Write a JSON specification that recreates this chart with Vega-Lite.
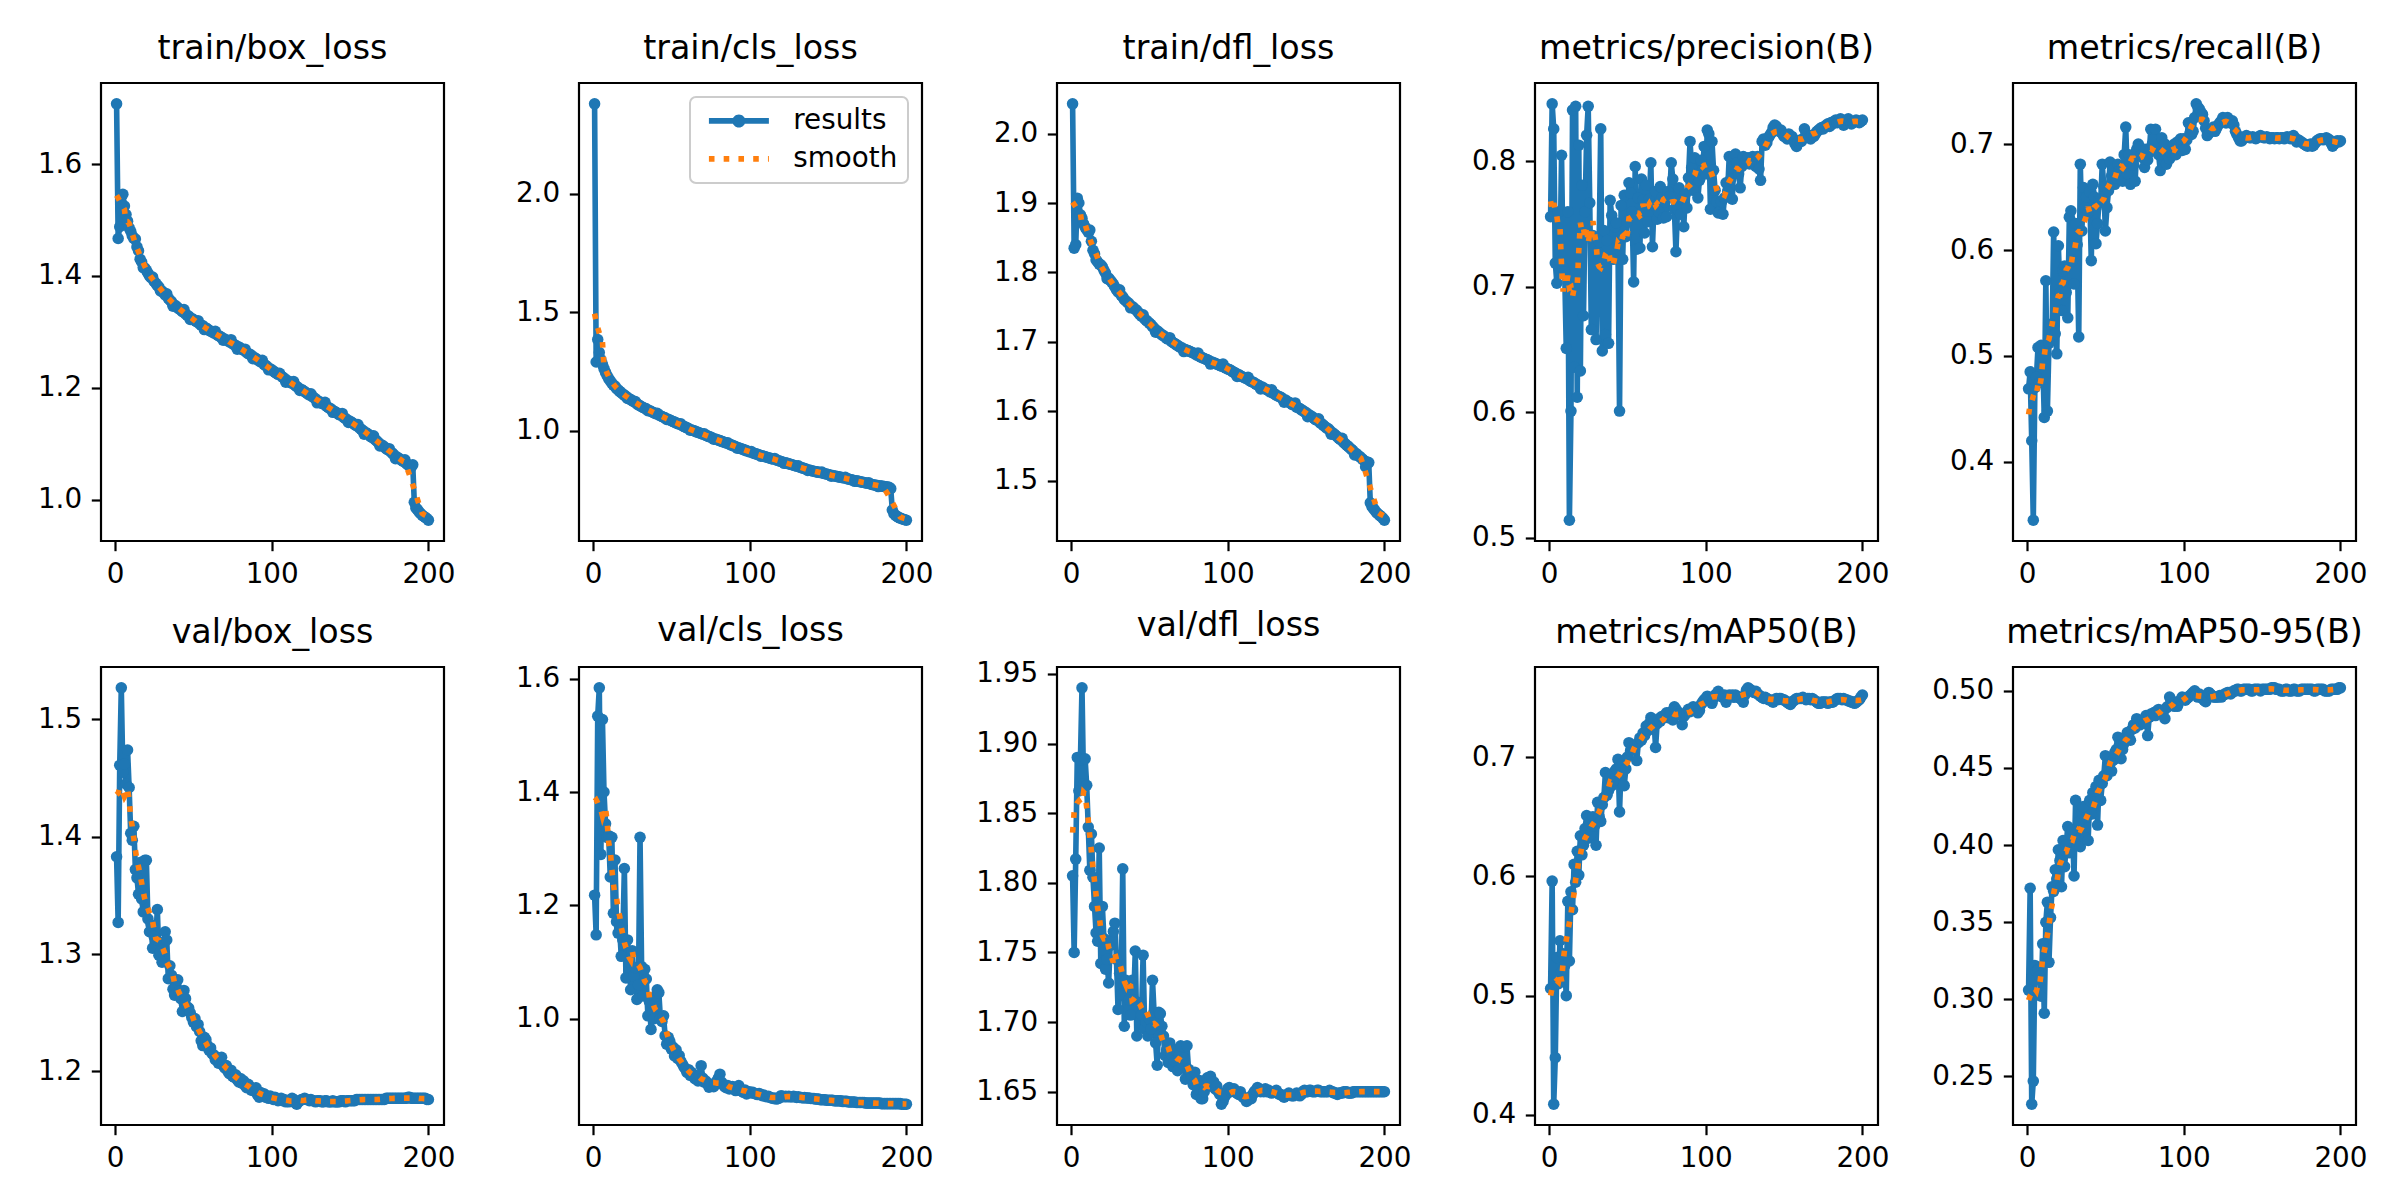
{
  "$schema": "https://vega.github.io/schema/vega-lite/v6.json",
  "padding": {"left": 36, "top": 30, "right": 5, "bottom": 5},
  "background": "white",
  "data": {"values": [
    {"epoch":1,"tbox":1.708,"tcls":2.380,"tdfl":2.043,"prec":0.756,"rec":0.469,"vbox":1.383,"vcls":1.218,"vdfl":1.805,"map50":0.506,"map95":0.306},
    {"epoch":2,"tbox":1.467,"tcls":1.290,"tdfl":1.835,"prec":0.846,"rec":0.485,"vbox":1.327,"vcls":1.148,"vdfl":1.750,"map50":0.596,"map95":0.372},
    {"epoch":3,"tbox":1.488,"tcls":1.385,"tdfl":1.840,"prec":0.826,"rec":0.420,"vbox":1.461,"vcls":1.534,"vdfl":1.817,"map50":0.409,"map95":0.232},
    {"epoch":4,"tbox":1.530,"tcls":1.330,"tdfl":1.907,"prec":0.719,"rec":0.345,"vbox":1.527,"vcls":1.584,"vdfl":1.890,"map50":0.448,"map95":0.247},
    {"epoch":5,"tbox":1.546,"tcls":1.300,"tdfl":1.900,"prec":0.703,"rec":0.470,"vbox":1.455,"vcls":1.290,"vdfl":1.866,"map50":0.532,"map95":0.322},
    {"epoch":6,"tbox":1.525,"tcls":1.280,"tdfl":1.883,"prec":0.760,"rec":0.480,"vbox":1.462,"vcls":1.528,"vdfl":1.888,"map50":0.510,"map95":0.318},
    {"epoch":7,"tbox":1.510,"tcls":1.262,"tdfl":1.878,"prec":0.720,"rec":0.508,"vbox":1.445,"vcls":1.400,"vdfl":1.940,"map50":0.546,"map95":0.319},
    {"epoch":8,"tbox":1.498,"tcls":1.246,"tdfl":1.870,"prec":0.805,"rec":0.475,"vbox":1.474,"vcls":1.344,"vdfl":1.871,"map50":0.520,"map95":0.315},
    {"epoch":9,"tbox":1.486,"tcls":1.232,"tdfl":1.865,"prec":0.715,"rec":0.510,"vbox":1.442,"vcls":1.320,"vdfl":1.889,"map50":0.535,"map95":0.302},
    {"epoch":10,"tbox":1.480,"tcls":1.220,"tdfl":1.862,"prec":0.712,"rec":0.500,"vbox":1.403,"vcls":1.323,"vdfl":1.870,"map50":0.525,"map95":0.336},
    {"epoch":11,"tbox":1.472,"tcls":1.210,"tdfl":1.858,"prec":0.651,"rec":0.442,"vbox":1.397,"vcls":1.250,"vdfl":1.840,"map50":0.500,"map95":0.291},
    {"epoch":12,"tbox":1.467,"tcls":1.200,"tdfl":1.861,"prec":0.760,"rec":0.571,"vbox":1.409,"vcls":1.320,"vdfl":1.809,"map50":0.579,"map95":0.350},
    {"epoch":13,"tbox":1.466,"tcls":1.192,"tdfl":1.845,"prec":0.514,"rec":0.448,"vbox":1.372,"vcls":1.186,"vdfl":1.835,"map50":0.529,"map95":0.363},
    {"epoch":14,"tbox":1.452,"tcls":1.188,"tdfl":1.832,"prec":0.601,"rec":0.512,"vbox":1.365,"vcls":1.280,"vdfl":1.804,"map50":0.587,"map95":0.324},
    {"epoch":15,"tbox":1.445,"tcls":1.178,"tdfl":1.827,"prec":0.841,"rec":0.530,"vbox":1.351,"vcls":1.171,"vdfl":1.783,"map50":0.572,"map95":0.353},
    {"epoch":16,"tbox":1.430,"tcls":1.172,"tdfl":1.818,"prec":0.636,"rec":0.520,"vbox":1.378,"vcls":1.151,"vdfl":1.764,"map50":0.610,"map95":0.373},
    {"epoch":17,"tbox":1.425,"tcls":1.166,"tdfl":1.815,"prec":0.844,"rec":0.617,"vbox":1.347,"vcls":1.160,"vdfl":1.758,"map50":0.595,"map95":0.370},
    {"epoch":18,"tbox":1.415,"tcls":1.160,"tdfl":1.812,"prec":0.612,"rec":0.521,"vbox":1.336,"vcls":1.110,"vdfl":1.825,"map50":0.621,"map95":0.384},
    {"epoch":19,"tbox":1.414,"tcls":1.155,"tdfl":1.811,"prec":0.813,"rec":0.502,"vbox":1.380,"vcls":1.139,"vdfl":1.742,"map50":0.601,"map95":0.378},
    {"epoch":20,"tbox":1.410,"tcls":1.150,"tdfl":1.808,"prec":0.633,"rec":0.604,"vbox":1.380,"vcls":1.265,"vdfl":1.783,"map50":0.634,"map95":0.397},
    {"epoch":21,"tbox":1.405,"tcls":1.145,"tdfl":1.803,"prec":0.781,"rec":0.560,"vbox":1.330,"vcls":1.072,"vdfl":1.760,"map50":0.618,"map95":0.390},
    {"epoch":22,"tbox":1.400,"tcls":1.136,"tdfl":1.799,"prec":0.677,"rec":0.543,"vbox":1.319,"vcls":1.139,"vdfl":1.738,"map50":0.626,"map95":0.373},
    {"epoch":23,"tbox":1.397,"tcls":1.136,"tdfl":1.791,"prec":0.760,"rec":0.580,"vbox":1.325,"vcls":1.100,"vdfl":1.745,"map50":0.640,"map95":0.403},
    {"epoch":24,"tbox":1.398,"tcls":1.131,"tdfl":1.792,"prec":0.821,"rec":0.585,"vbox":1.305,"vcls":1.051,"vdfl":1.728,"map50":0.651,"map95":0.386},
    {"epoch":25,"tbox":1.390,"tcls":1.127,"tdfl":1.789,"prec":0.844,"rec":0.560,"vbox":1.315,"vcls":1.120,"vdfl":1.755,"map50":0.632,"map95":0.400},
    {"epoch":26,"tbox":1.387,"tcls":1.122,"tdfl":1.786,"prec":0.767,"rec":0.536,"vbox":1.312,"vcls":1.075,"vdfl":1.759,"map50":0.645,"map95":0.412},
    {"epoch":27,"tbox":1.383,"tcls":1.123,"tdfl":1.783,"prec":0.666,"rec":0.631,"vbox":1.338,"vcls":1.090,"vdfl":1.765,"map50":0.636,"map95":0.395},
    {"epoch":28,"tbox":1.380,"tcls":1.113,"tdfl":1.779,"prec":0.741,"rec":0.637,"vbox":1.299,"vcls":1.034,"vdfl":1.771,"map50":0.650,"map95":0.407},
    {"epoch":29,"tbox":1.373,"tcls":1.109,"tdfl":1.775,"prec":0.731,"rec":0.590,"vbox":1.302,"vcls":1.060,"vdfl":1.745,"map50":0.642,"map95":0.410},
    {"epoch":30,"tbox":1.373,"tcls":1.105,"tdfl":1.772,"prec":0.658,"rec":0.568,"vbox":1.293,"vcls":1.320,"vdfl":1.709,"map50":0.626,"map95":0.380},
    {"epoch":31,"tbox":1.370,"tcls":1.101,"tdfl":1.775,"prec":0.728,"rec":0.625,"vbox":1.310,"vcls":1.092,"vdfl":1.735,"map50":0.662,"map95":0.429},
    {"epoch":32,"tbox":1.366,"tcls":1.098,"tdfl":1.767,"prec":0.736,"rec":0.605,"vbox":1.319,"vcls":1.040,"vdfl":1.720,"map50":0.650,"map95":0.403},
    {"epoch":33,"tbox":1.368,"tcls":1.095,"tdfl":1.765,"prec":0.826,"rec":0.518,"vbox":1.312,"vcls":1.087,"vdfl":1.810,"map50":0.646,"map95":0.415},
    {"epoch":34,"tbox":1.360,"tcls":1.092,"tdfl":1.761,"prec":0.649,"rec":0.681,"vbox":1.279,"vcls":1.070,"vdfl":1.697,"map50":0.660,"map95":0.399},
    {"epoch":35,"tbox":1.357,"tcls":1.084,"tdfl":1.759,"prec":0.745,"rec":0.618,"vbox":1.290,"vcls":1.005,"vdfl":1.730,"map50":0.666,"map95":0.421},
    {"epoch":36,"tbox":1.354,"tcls":1.085,"tdfl":1.757,"prec":0.662,"rec":0.659,"vbox":1.282,"vcls":1.030,"vdfl":1.725,"map50":0.687,"map95":0.425},
    {"epoch":37,"tbox":1.346,"tcls":1.082,"tdfl":1.755,"prec":0.737,"rec":0.640,"vbox":1.270,"vcls":0.981,"vdfl":1.716,"map50":0.668,"map95":0.405},
    {"epoch":38,"tbox":1.348,"tcls":1.078,"tdfl":1.749,"prec":0.655,"rec":0.650,"vbox":1.265,"vcls":1.010,"vdfl":1.705,"map50":0.672,"map95":0.418},
    {"epoch":39,"tbox":1.346,"tcls":1.075,"tdfl":1.751,"prec":0.769,"rec":0.635,"vbox":1.272,"vcls":1.000,"vdfl":1.730,"map50":0.684,"map95":0.403},
    {"epoch":40,"tbox":1.343,"tcls":1.072,"tdfl":1.749,"prec":0.757,"rec":0.655,"vbox":1.278,"vcls":1.040,"vdfl":1.716,"map50":0.676,"map95":0.429},
    {"epoch":41,"tbox":1.341,"tcls":1.073,"tdfl":1.747,"prec":0.722,"rec":0.590,"vbox":1.268,"vcls":1.051,"vdfl":1.751,"map50":0.680,"map95":0.420},
    {"epoch":42,"tbox":1.339,"tcls":1.066,"tdfl":1.745,"prec":0.748,"rec":0.662,"vbox":1.262,"vcls":1.046,"vdfl":1.690,"map50":0.688,"map95":0.434},
    {"epoch":43,"tbox":1.336,"tcls":1.063,"tdfl":1.742,"prec":0.751,"rec":0.650,"vbox":1.251,"vcls":1.000,"vdfl":1.714,"map50":0.690,"map95":0.428},
    {"epoch":44,"tbox":1.340,"tcls":1.060,"tdfl":1.739,"prec":0.733,"rec":0.606,"vbox":1.269,"vcls":0.995,"vdfl":1.700,"map50":0.698,"map95":0.438},
    {"epoch":45,"tbox":1.332,"tcls":1.057,"tdfl":1.737,"prec":0.601,"rec":0.625,"vbox":1.262,"vcls":1.005,"vdfl":1.705,"map50":0.654,"map95":0.413},
    {"epoch":46,"tbox":1.330,"tcls":1.054,"tdfl":1.739,"prec":0.765,"rec":0.647,"vbox":1.255,"vcls":0.970,"vdfl":1.748,"map50":0.692,"map95":0.442},
    {"epoch":47,"tbox":1.328,"tcls":1.047,"tdfl":1.733,"prec":0.722,"rec":0.645,"vbox":1.254,"vcls":0.955,"vdfl":1.695,"map50":0.695,"map95":0.429},
    {"epoch":48,"tbox":1.322,"tcls":1.048,"tdfl":1.731,"prec":0.773,"rec":0.681,"vbox":1.250,"vcls":0.967,"vdfl":1.700,"map50":0.676,"map95":0.440},
    {"epoch":49,"tbox":1.324,"tcls":1.045,"tdfl":1.729,"prec":0.740,"rec":0.660,"vbox":1.246,"vcls":0.960,"vdfl":1.690,"map50":0.690,"map95":0.445},
    {"epoch":50,"tbox":1.322,"tcls":1.042,"tdfl":1.727,"prec":0.752,"rec":0.618,"vbox":1.242,"vcls":0.946,"vdfl":1.702,"map50":0.700,"map95":0.458},
    {"epoch":51,"tbox":1.320,"tcls":1.039,"tdfl":1.725,"prec":0.783,"rec":0.640,"vbox":1.245,"vcls":0.950,"vdfl":1.695,"map50":0.712,"map95":0.445},
    {"epoch":52,"tbox":1.318,"tcls":1.036,"tdfl":1.722,"prec":0.775,"rec":0.656,"vbox":1.238,"vcls":0.934,"vdfl":1.730,"map50":0.705,"map95":0.450},
    {"epoch":53,"tbox":1.320,"tcls":1.033,"tdfl":1.720,"prec":0.760,"rec":0.683,"vbox":1.240,"vcls":0.945,"vdfl":1.707,"map50":0.708,"map95":0.453},
    {"epoch":54,"tbox":1.314,"tcls":1.030,"tdfl":1.714,"prec":0.704,"rec":0.670,"vbox":1.234,"vcls":0.930,"vdfl":1.685,"map50":0.706,"map95":0.448},
    {"epoch":55,"tbox":1.312,"tcls":1.027,"tdfl":1.716,"prec":0.796,"rec":0.675,"vbox":1.226,"vcls":0.935,"vdfl":1.669,"map50":0.710,"map95":0.455},
    {"epoch":56,"tbox":1.311,"tcls":1.029,"tdfl":1.714,"prec":0.730,"rec":0.662,"vbox":1.222,"vcls":0.925,"vdfl":1.707,"map50":0.697,"map95":0.460},
    {"epoch":57,"tbox":1.304,"tcls":1.021,"tdfl":1.712,"prec":0.771,"rec":0.668,"vbox":1.229,"vcls":0.920,"vdfl":1.706,"map50":0.712,"map95":0.462},
    {"epoch":58,"tbox":1.307,"tcls":1.018,"tdfl":1.710,"prec":0.731,"rec":0.681,"vbox":1.227,"vcls":0.915,"vdfl":1.697,"map50":0.716,"map95":0.470},
    {"epoch":59,"tbox":1.305,"tcls":1.015,"tdfl":1.709,"prec":0.786,"rec":0.675,"vbox":1.222,"vcls":0.911,"vdfl":1.690,"map50":0.714,"map95":0.465},
    {"epoch":60,"tbox":1.303,"tcls":1.012,"tdfl":1.707,"prec":0.769,"rec":0.670,"vbox":1.218,"vcls":0.905,"vdfl":1.676,"map50":0.720,"map95":0.456},
    {"epoch":61,"tbox":1.301,"tcls":1.009,"tdfl":1.705,"prec":0.743,"rec":0.665,"vbox":1.220,"vcls":0.910,"vdfl":1.680,"map50":0.718,"map95":0.462},
    {"epoch":62,"tbox":1.300,"tcls":1.002,"tdfl":1.704,"prec":0.781,"rec":0.690,"vbox":1.215,"vcls":0.900,"vdfl":1.671,"map50":0.726,"map95":0.466},
    {"epoch":63,"tbox":1.298,"tcls":1.003,"tdfl":1.706,"prec":0.752,"rec":0.716,"vbox":1.214,"vcls":0.905,"vdfl":1.685,"map50":0.722,"map95":0.468},
    {"epoch":64,"tbox":1.301,"tcls":1.001,"tdfl":1.701,"prec":0.770,"rec":0.672,"vbox":1.210,"vcls":0.898,"vdfl":1.677,"map50":0.728,"map95":0.473},
    {"epoch":65,"tbox":1.295,"tcls":0.998,"tdfl":1.699,"prec":0.799,"rec":0.690,"vbox":1.212,"vcls":0.894,"vdfl":1.668,"map50":0.733,"map95":0.470},
    {"epoch":66,"tbox":1.293,"tcls":0.995,"tdfl":1.698,"prec":0.732,"rec":0.662,"vbox":1.207,"vcls":0.897,"vdfl":1.672,"map50":0.725,"map95":0.468},
    {"epoch":67,"tbox":1.292,"tcls":0.993,"tdfl":1.696,"prec":0.765,"rec":0.685,"vbox":1.209,"vcls":0.890,"vdfl":1.680,"map50":0.730,"map95":0.475},
    {"epoch":68,"tbox":1.290,"tcls":0.990,"tdfl":1.695,"prec":0.776,"rec":0.680,"vbox":1.212,"vcls":0.900,"vdfl":1.665,"map50":0.708,"map95":0.478},
    {"epoch":69,"tbox":1.285,"tcls":0.988,"tdfl":1.693,"prec":0.754,"rec":0.665,"vbox":1.205,"vcls":0.917,"vdfl":1.676,"map50":0.728,"map95":0.476},
    {"epoch":70,"tbox":1.287,"tcls":0.985,"tdfl":1.692,"prec":0.760,"rec":0.695,"vbox":1.203,"vcls":0.895,"vdfl":1.683,"map50":0.732,"map95":0.482},
    {"epoch":71,"tbox":1.285,"tcls":0.987,"tdfl":1.691,"prec":0.780,"rec":0.700,"vbox":1.205,"vcls":0.888,"vdfl":1.670,"map50":0.730,"map95":0.480},
    {"epoch":72,"tbox":1.284,"tcls":0.980,"tdfl":1.686,"prec":0.771,"rec":0.697,"vbox":1.200,"vcls":0.890,"vdfl":1.674,"map50":0.734,"map95":0.478},
    {"epoch":73,"tbox":1.282,"tcls":0.978,"tdfl":1.689,"prec":0.755,"rec":0.690,"vbox":1.198,"vcls":0.885,"vdfl":1.659,"map50":0.733,"map95":0.480},
    {"epoch":74,"tbox":1.286,"tcls":0.975,"tdfl":1.688,"prec":0.768,"rec":0.687,"vbox":1.201,"vcls":0.879,"vdfl":1.683,"map50":0.735,"map95":0.481},
    {"epoch":75,"tbox":1.279,"tcls":0.973,"tdfl":1.687,"prec":0.756,"rec":0.678,"vbox":1.196,"vcls":0.884,"vdfl":1.666,"map50":0.737,"map95":0.479},
    {"epoch":76,"tbox":1.277,"tcls":0.970,"tdfl":1.686,"prec":0.776,"rec":0.695,"vbox":1.195,"vcls":0.882,"vdfl":1.664,"map50":0.733,"map95":0.484},
    {"epoch":77,"tbox":1.276,"tcls":0.964,"tdfl":1.685,"prec":0.772,"rec":0.685,"vbox":1.197,"vcls":0.880,"vdfl":1.660,"map50":0.736,"map95":0.471},
    {"epoch":78,"tbox":1.269,"tcls":0.965,"tdfl":1.684,"prec":0.799,"rec":0.692,"vbox":1.193,"vcls":0.885,"vdfl":1.655,"map50":0.738,"map95":0.483},
    {"epoch":79,"tbox":1.273,"tcls":0.963,"tdfl":1.683,"prec":0.786,"rec":0.714,"vbox":1.191,"vcls":0.890,"vdfl":1.664,"map50":0.731,"map95":0.485},
    {"epoch":80,"tbox":1.271,"tcls":0.960,"tdfl":1.681,"prec":0.762,"rec":0.700,"vbox":1.194,"vcls":0.895,"vdfl":1.648,"map50":0.742,"map95":0.484},
    {"epoch":81,"tbox":1.269,"tcls":0.958,"tdfl":1.684,"prec":0.728,"rec":0.705,"vbox":1.190,"vcls":0.902,"vdfl":1.652,"map50":0.740,"map95":0.486},
    {"epoch":82,"tbox":1.267,"tcls":0.955,"tdfl":1.679,"prec":0.762,"rec":0.714,"vbox":1.192,"vcls":0.888,"vdfl":1.658,"map50":0.738,"map95":0.484},
    {"epoch":83,"tbox":1.269,"tcls":0.953,"tdfl":1.678,"prec":0.779,"rec":0.695,"vbox":1.188,"vcls":0.884,"vdfl":1.645,"map50":0.736,"map95":0.487},
    {"epoch":84,"tbox":1.263,"tcls":0.950,"tdfl":1.677,"prec":0.758,"rec":0.690,"vbox":1.186,"vcls":0.880,"vdfl":1.645,"map50":0.735,"map95":0.488},
    {"epoch":85,"tbox":1.261,"tcls":0.948,"tdfl":1.676,"prec":0.770,"rec":0.675,"vbox":1.189,"vcls":0.878,"vdfl":1.650,"map50":0.727,"map95":0.486},
    {"epoch":86,"tbox":1.260,"tcls":0.949,"tdfl":1.675,"prec":0.748,"rec":0.706,"vbox":1.187,"vcls":0.882,"vdfl":1.655,"map50":0.734,"map95":0.485},
    {"epoch":87,"tbox":1.258,"tcls":0.943,"tdfl":1.674,"prec":0.774,"rec":0.695,"vbox":1.184,"vcls":0.876,"vdfl":1.660,"map50":0.736,"map95":0.487},
    {"epoch":88,"tbox":1.252,"tcls":0.940,"tdfl":1.673,"prec":0.763,"rec":0.700,"vbox":1.185,"vcls":0.878,"vdfl":1.657,"map50":0.738,"map95":0.482},
    {"epoch":89,"tbox":1.254,"tcls":0.938,"tdfl":1.668,"prec":0.787,"rec":0.681,"vbox":1.183,"vcls":0.880,"vdfl":1.661,"map50":0.740,"map95":0.489},
    {"epoch":90,"tbox":1.252,"tcls":0.935,"tdfl":1.671,"prec":0.816,"rec":0.690,"vbox":1.186,"vcls":0.876,"vdfl":1.654,"map50":0.738,"map95":0.490},
    {"epoch":91,"tbox":1.250,"tcls":0.933,"tdfl":1.670,"prec":0.795,"rec":0.686,"vbox":1.180,"vcls":0.873,"vdfl":1.657,"map50":0.740,"map95":0.496},
    {"epoch":92,"tbox":1.248,"tcls":0.926,"tdfl":1.669,"prec":0.777,"rec":0.692,"vbox":1.178,"vcls":0.878,"vdfl":1.652,"map50":0.742,"map95":0.494},
    {"epoch":93,"tbox":1.246,"tcls":0.928,"tdfl":1.668,"prec":0.803,"rec":0.698,"vbox":1.182,"vcls":0.882,"vdfl":1.654,"map50":0.740,"map95":0.492},
    {"epoch":94,"tbox":1.249,"tcls":0.925,"tdfl":1.667,"prec":0.790,"rec":0.700,"vbox":1.180,"vcls":0.875,"vdfl":1.650,"map50":0.741,"map95":0.490},
    {"epoch":95,"tbox":1.242,"tcls":0.923,"tdfl":1.666,"prec":0.771,"rec":0.690,"vbox":1.181,"vcls":0.872,"vdfl":1.648,"map50":0.737,"map95":0.491},
    {"epoch":96,"tbox":1.240,"tcls":0.920,"tdfl":1.665,"prec":0.785,"rec":0.702,"vbox":1.178,"vcls":0.870,"vdfl":1.641,"map50":0.739,"map95":0.490},
    {"epoch":97,"tbox":1.238,"tcls":0.918,"tdfl":1.668,"prec":0.801,"rec":0.698,"vbox":1.179,"vcls":0.874,"vdfl":1.643,"map50":0.744,"map95":0.493},
    {"epoch":98,"tbox":1.232,"tcls":0.915,"tdfl":1.663,"prec":0.793,"rec":0.705,"vbox":1.177,"vcls":0.867,"vdfl":1.646,"map50":0.746,"map95":0.494},
    {"epoch":99,"tbox":1.234,"tcls":0.913,"tdfl":1.662,"prec":0.812,"rec":0.694,"vbox":1.179,"vcls":0.870,"vdfl":1.648,"map50":0.748,"map95":0.496},
    {"epoch":100,"tbox":1.232,"tcls":0.910,"tdfl":1.661,"prec":0.790,"rec":0.705,"vbox":1.178,"vcls":0.871,"vdfl":1.652,"map50":0.749,"map95":0.495},
    {"epoch":101,"tbox":1.230,"tcls":0.912,"tdfl":1.660,"prec":0.825,"rec":0.695,"vbox":1.176,"vcls":0.869,"vdfl":1.653,"map50":0.751,"map95":0.494},
    {"epoch":102,"tbox":1.228,"tcls":0.906,"tdfl":1.659,"prec":0.822,"rec":0.704,"vbox":1.178,"vcls":0.870,"vdfl":1.650,"map50":0.750,"map95":0.495},
    {"epoch":103,"tbox":1.226,"tcls":0.904,"tdfl":1.657,"prec":0.762,"rec":0.720,"vbox":1.177,"vcls":0.868,"vdfl":1.651,"map50":0.748,"map95":0.496},
    {"epoch":104,"tbox":1.224,"tcls":0.902,"tdfl":1.656,"prec":0.816,"rec":0.710,"vbox":1.175,"vcls":0.867,"vdfl":1.652,"map50":0.745,"map95":0.497},
    {"epoch":105,"tbox":1.226,"tcls":0.900,"tdfl":1.655,"prec":0.793,"rec":0.709,"vbox":1.176,"vcls":0.866,"vdfl":1.650,"map50":0.749,"map95":0.498},
    {"epoch":106,"tbox":1.221,"tcls":0.898,"tdfl":1.650,"prec":0.777,"rec":0.712,"vbox":1.177,"vcls":0.868,"vdfl":1.649,"map50":0.752,"map95":0.499},
    {"epoch":107,"tbox":1.219,"tcls":0.892,"tdfl":1.653,"prec":0.768,"rec":0.725,"vbox":1.175,"vcls":0.866,"vdfl":1.648,"map50":0.753,"map95":0.500},
    {"epoch":108,"tbox":1.217,"tcls":0.894,"tdfl":1.651,"prec":0.759,"rec":0.738,"vbox":1.176,"vcls":0.864,"vdfl":1.650,"map50":0.755,"map95":0.497},
    {"epoch":109,"tbox":1.210,"tcls":0.892,"tdfl":1.650,"prec":0.760,"rec":0.735,"vbox":1.174,"vcls":0.865,"vdfl":1.647,"map50":0.752,"map95":0.496},
    {"epoch":110,"tbox":1.213,"tcls":0.890,"tdfl":1.649,"prec":0.768,"rec":0.733,"vbox":1.175,"vcls":0.863,"vdfl":1.646,"map50":0.751,"map95":0.498},
    {"epoch":111,"tbox":1.211,"tcls":0.888,"tdfl":1.648,"prec":0.758,"rec":0.730,"vbox":1.174,"vcls":0.862,"vdfl":1.645,"map50":0.750,"map95":0.497},
    {"epoch":112,"tbox":1.209,"tcls":0.886,"tdfl":1.647,"prec":0.771,"rec":0.728,"vbox":1.175,"vcls":0.863,"vdfl":1.643,"map50":0.752,"map95":0.495},
    {"epoch":113,"tbox":1.208,"tcls":0.884,"tdfl":1.649,"prec":0.783,"rec":0.722,"vbox":1.177,"vcls":0.861,"vdfl":1.644,"map50":0.746,"map95":0.494},
    {"epoch":114,"tbox":1.211,"tcls":0.882,"tdfl":1.644,"prec":0.776,"rec":0.715,"vbox":1.176,"vcls":0.860,"vdfl":1.646,"map50":0.750,"map95":0.493},
    {"epoch":115,"tbox":1.204,"tcls":0.880,"tdfl":1.643,"prec":0.804,"rec":0.708,"vbox":1.173,"vcls":0.859,"vdfl":1.645,"map50":0.752,"map95":0.496},
    {"epoch":116,"tbox":1.202,"tcls":0.882,"tdfl":1.642,"prec":0.786,"rec":0.710,"vbox":1.172,"vcls":0.860,"vdfl":1.648,"map50":0.751,"map95":0.499},
    {"epoch":117,"tbox":1.200,"tcls":0.876,"tdfl":1.641,"prec":0.770,"rec":0.712,"vbox":1.174,"vcls":0.858,"vdfl":1.650,"map50":0.752,"map95":0.498},
    {"epoch":118,"tbox":1.195,"tcls":0.874,"tdfl":1.639,"prec":0.804,"rec":0.714,"vbox":1.175,"vcls":0.859,"vdfl":1.651,"map50":0.750,"map95":0.497},
    {"epoch":119,"tbox":1.197,"tcls":0.872,"tdfl":1.638,"prec":0.806,"rec":0.716,"vbox":1.176,"vcls":0.860,"vdfl":1.653,"map50":0.752,"map95":0.496},
    {"epoch":120,"tbox":1.195,"tcls":0.870,"tdfl":1.637,"prec":0.799,"rec":0.712,"vbox":1.176,"vcls":0.864,"vdfl":1.652,"map50":0.751,"map95":0.496},
    {"epoch":121,"tbox":1.193,"tcls":0.868,"tdfl":1.632,"prec":0.790,"rec":0.715,"vbox":1.177,"vcls":0.863,"vdfl":1.650,"map50":0.750,"map95":0.496},
    {"epoch":122,"tbox":1.191,"tcls":0.862,"tdfl":1.635,"prec":0.779,"rec":0.718,"vbox":1.176,"vcls":0.862,"vdfl":1.651,"map50":0.749,"map95":0.496},
    {"epoch":123,"tbox":1.189,"tcls":0.864,"tdfl":1.633,"prec":0.796,"rec":0.720,"vbox":1.176,"vcls":0.863,"vdfl":1.650,"map50":0.748,"map95":0.497},
    {"epoch":124,"tbox":1.187,"tcls":0.862,"tdfl":1.632,"prec":0.804,"rec":0.722,"vbox":1.175,"vcls":0.862,"vdfl":1.652,"map50":0.746,"map95":0.496},
    {"epoch":125,"tbox":1.189,"tcls":0.860,"tdfl":1.631,"prec":0.799,"rec":0.725,"vbox":1.176,"vcls":0.863,"vdfl":1.650,"map50":0.752,"map95":0.497},
    {"epoch":126,"tbox":1.184,"tcls":0.858,"tdfl":1.630,"prec":0.801,"rec":0.723,"vbox":1.175,"vcls":0.862,"vdfl":1.651,"map50":0.756,"map95":0.498},
    {"epoch":127,"tbox":1.182,"tcls":0.856,"tdfl":1.628,"prec":0.803,"rec":0.720,"vbox":1.175,"vcls":0.862,"vdfl":1.650,"map50":0.758,"map95":0.498},
    {"epoch":128,"tbox":1.180,"tcls":0.854,"tdfl":1.631,"prec":0.798,"rec":0.725,"vbox":1.174,"vcls":0.863,"vdfl":1.649,"map50":0.757,"map95":0.499},
    {"epoch":129,"tbox":1.173,"tcls":0.852,"tdfl":1.626,"prec":0.800,"rec":0.722,"vbox":1.175,"vcls":0.862,"vdfl":1.650,"map50":0.756,"map95":0.499},
    {"epoch":130,"tbox":1.176,"tcls":0.850,"tdfl":1.625,"prec":0.804,"rec":0.720,"vbox":1.175,"vcls":0.861,"vdfl":1.650,"map50":0.755,"map95":0.498},
    {"epoch":131,"tbox":1.174,"tcls":0.852,"tdfl":1.623,"prec":0.802,"rec":0.722,"vbox":1.175,"vcls":0.862,"vdfl":1.651,"map50":0.754,"map95":0.499},
    {"epoch":132,"tbox":1.172,"tcls":0.846,"tdfl":1.622,"prec":0.796,"rec":0.718,"vbox":1.174,"vcls":0.861,"vdfl":1.649,"map50":0.755,"map95":0.500},
    {"epoch":133,"tbox":1.171,"tcls":0.844,"tdfl":1.621,"prec":0.804,"rec":0.712,"vbox":1.174,"vcls":0.861,"vdfl":1.648,"map50":0.753,"map95":0.500},
    {"epoch":134,"tbox":1.174,"tcls":0.842,"tdfl":1.620,"prec":0.794,"rec":0.709,"vbox":1.175,"vcls":0.860,"vdfl":1.648,"map50":0.752,"map95":0.501},
    {"epoch":135,"tbox":1.167,"tcls":0.840,"tdfl":1.618,"prec":0.785,"rec":0.706,"vbox":1.175,"vcls":0.861,"vdfl":1.647,"map50":0.751,"map95":0.501},
    {"epoch":136,"tbox":1.165,"tcls":0.838,"tdfl":1.613,"prec":0.816,"rec":0.703,"vbox":1.174,"vcls":0.860,"vdfl":1.646,"map50":0.750,"map95":0.500},
    {"epoch":137,"tbox":1.163,"tcls":0.832,"tdfl":1.616,"prec":0.818,"rec":0.703,"vbox":1.174,"vcls":0.860,"vdfl":1.647,"map50":0.749,"map95":0.500},
    {"epoch":138,"tbox":1.162,"tcls":0.834,"tdfl":1.614,"prec":0.813,"rec":0.705,"vbox":1.174,"vcls":0.860,"vdfl":1.648,"map50":0.750,"map95":0.501},
    {"epoch":139,"tbox":1.156,"tcls":0.832,"tdfl":1.613,"prec":0.815,"rec":0.707,"vbox":1.175,"vcls":0.859,"vdfl":1.649,"map50":0.749,"map95":0.501},
    {"epoch":140,"tbox":1.158,"tcls":0.830,"tdfl":1.612,"prec":0.819,"rec":0.708,"vbox":1.174,"vcls":0.859,"vdfl":1.648,"map50":0.748,"map95":0.501},
    {"epoch":141,"tbox":1.156,"tcls":0.829,"tdfl":1.610,"prec":0.821,"rec":0.707,"vbox":1.174,"vcls":0.859,"vdfl":1.647,"map50":0.748,"map95":0.501},
    {"epoch":142,"tbox":1.154,"tcls":0.827,"tdfl":1.609,"prec":0.823,"rec":0.706,"vbox":1.174,"vcls":0.858,"vdfl":1.647,"map50":0.747,"map95":0.501},
    {"epoch":143,"tbox":1.152,"tcls":0.826,"tdfl":1.612,"prec":0.827,"rec":0.706,"vbox":1.174,"vcls":0.858,"vdfl":1.648,"map50":0.746,"map95":0.500},
    {"epoch":144,"tbox":1.151,"tcls":0.824,"tdfl":1.606,"prec":0.829,"rec":0.707,"vbox":1.175,"vcls":0.858,"vdfl":1.649,"map50":0.748,"map95":0.500},
    {"epoch":145,"tbox":1.154,"tcls":0.823,"tdfl":1.605,"prec":0.828,"rec":0.706,"vbox":1.175,"vcls":0.857,"vdfl":1.648,"map50":0.749,"map95":0.501},
    {"epoch":146,"tbox":1.147,"tcls":0.825,"tdfl":1.604,"prec":0.825,"rec":0.705,"vbox":1.175,"vcls":0.857,"vdfl":1.647,"map50":0.748,"map95":0.501},
    {"epoch":147,"tbox":1.145,"tcls":0.820,"tdfl":1.602,"prec":0.824,"rec":0.706,"vbox":1.174,"vcls":0.857,"vdfl":1.648,"map50":0.749,"map95":0.501},
    {"epoch":148,"tbox":1.143,"tcls":0.818,"tdfl":1.601,"prec":0.825,"rec":0.707,"vbox":1.175,"vcls":0.857,"vdfl":1.650,"map50":0.749,"map95":0.501},
    {"epoch":149,"tbox":1.138,"tcls":0.817,"tdfl":1.599,"prec":0.822,"rec":0.708,"vbox":1.175,"vcls":0.856,"vdfl":1.651,"map50":0.748,"map95":0.500},
    {"epoch":150,"tbox":1.140,"tcls":0.815,"tdfl":1.598,"prec":0.820,"rec":0.707,"vbox":1.175,"vcls":0.856,"vdfl":1.650,"map50":0.748,"map95":0.501},
    {"epoch":151,"tbox":1.138,"tcls":0.814,"tdfl":1.592,"prec":0.821,"rec":0.706,"vbox":1.175,"vcls":0.856,"vdfl":1.650,"map50":0.747,"map95":0.501},
    {"epoch":152,"tbox":1.136,"tcls":0.808,"tdfl":1.595,"prec":0.818,"rec":0.706,"vbox":1.175,"vcls":0.856,"vdfl":1.651,"map50":0.746,"map95":0.501},
    {"epoch":153,"tbox":1.134,"tcls":0.811,"tdfl":1.593,"prec":0.822,"rec":0.707,"vbox":1.175,"vcls":0.856,"vdfl":1.651,"map50":0.745,"map95":0.501},
    {"epoch":154,"tbox":1.132,"tcls":0.809,"tdfl":1.592,"prec":0.819,"rec":0.706,"vbox":1.176,"vcls":0.855,"vdfl":1.650,"map50":0.744,"map95":0.501},
    {"epoch":155,"tbox":1.134,"tcls":0.808,"tdfl":1.590,"prec":0.820,"rec":0.705,"vbox":1.176,"vcls":0.855,"vdfl":1.650,"map50":0.746,"map95":0.501},
    {"epoch":156,"tbox":1.128,"tcls":0.806,"tdfl":1.588,"prec":0.817,"rec":0.706,"vbox":1.176,"vcls":0.855,"vdfl":1.650,"map50":0.747,"map95":0.502},
    {"epoch":157,"tbox":1.126,"tcls":0.805,"tdfl":1.587,"prec":0.814,"rec":0.706,"vbox":1.176,"vcls":0.855,"vdfl":1.651,"map50":0.748,"map95":0.502},
    {"epoch":158,"tbox":1.124,"tcls":0.803,"tdfl":1.589,"prec":0.812,"rec":0.705,"vbox":1.176,"vcls":0.855,"vdfl":1.651,"map50":0.749,"map95":0.502},
    {"epoch":159,"tbox":1.117,"tcls":0.802,"tdfl":1.583,"prec":0.815,"rec":0.706,"vbox":1.176,"vcls":0.854,"vdfl":1.650,"map50":0.749,"map95":0.501},
    {"epoch":160,"tbox":1.120,"tcls":0.800,"tdfl":1.582,"prec":0.817,"rec":0.706,"vbox":1.176,"vcls":0.854,"vdfl":1.650,"map50":0.749,"map95":0.501},
    {"epoch":161,"tbox":1.118,"tcls":0.803,"tdfl":1.580,"prec":0.816,"rec":0.705,"vbox":1.176,"vcls":0.854,"vdfl":1.650,"map50":0.749,"map95":0.501},
    {"epoch":162,"tbox":1.116,"tcls":0.797,"tdfl":1.578,"prec":0.818,"rec":0.706,"vbox":1.176,"vcls":0.854,"vdfl":1.650,"map50":0.750,"map95":0.500},
    {"epoch":163,"tbox":1.113,"tcls":0.796,"tdfl":1.576,"prec":0.826,"rec":0.706,"vbox":1.176,"vcls":0.853,"vdfl":1.650,"map50":0.749,"map95":0.500},
    {"epoch":164,"tbox":1.111,"tcls":0.794,"tdfl":1.575,"prec":0.822,"rec":0.705,"vbox":1.176,"vcls":0.853,"vdfl":1.650,"map50":0.748,"map95":0.500},
    {"epoch":165,"tbox":1.114,"tcls":0.793,"tdfl":1.573,"prec":0.820,"rec":0.706,"vbox":1.176,"vcls":0.853,"vdfl":1.651,"map50":0.749,"map95":0.501},
    {"epoch":166,"tbox":1.107,"tcls":0.791,"tdfl":1.567,"prec":0.819,"rec":0.707,"vbox":1.176,"vcls":0.853,"vdfl":1.650,"map50":0.749,"map95":0.501},
    {"epoch":167,"tbox":1.105,"tcls":0.786,"tdfl":1.569,"prec":0.818,"rec":0.706,"vbox":1.176,"vcls":0.853,"vdfl":1.650,"map50":0.748,"map95":0.500},
    {"epoch":168,"tbox":1.102,"tcls":0.788,"tdfl":1.567,"prec":0.821,"rec":0.705,"vbox":1.176,"vcls":0.852,"vdfl":1.649,"map50":0.749,"map95":0.500},
    {"epoch":169,"tbox":1.096,"tcls":0.787,"tdfl":1.565,"prec":0.820,"rec":0.707,"vbox":1.176,"vcls":0.852,"vdfl":1.649,"map50":0.748,"map95":0.500},
    {"epoch":170,"tbox":1.098,"tcls":0.785,"tdfl":1.563,"prec":0.822,"rec":0.708,"vbox":1.176,"vcls":0.852,"vdfl":1.648,"map50":0.747,"map95":0.501},
    {"epoch":171,"tbox":1.096,"tcls":0.784,"tdfl":1.561,"prec":0.824,"rec":0.706,"vbox":1.176,"vcls":0.852,"vdfl":1.649,"map50":0.746,"map95":0.501},
    {"epoch":172,"tbox":1.094,"tcls":0.782,"tdfl":1.559,"prec":0.825,"rec":0.702,"vbox":1.176,"vcls":0.852,"vdfl":1.649,"map50":0.745,"map95":0.500},
    {"epoch":173,"tbox":1.091,"tcls":0.781,"tdfl":1.561,"prec":0.826,"rec":0.704,"vbox":1.177,"vcls":0.852,"vdfl":1.649,"map50":0.745,"map95":0.500},
    {"epoch":174,"tbox":1.089,"tcls":0.779,"tdfl":1.555,"prec":0.827,"rec":0.703,"vbox":1.177,"vcls":0.851,"vdfl":1.650,"map50":0.746,"map95":0.500},
    {"epoch":175,"tbox":1.091,"tcls":0.778,"tdfl":1.553,"prec":0.826,"rec":0.702,"vbox":1.177,"vcls":0.851,"vdfl":1.650,"map50":0.746,"map95":0.501},
    {"epoch":176,"tbox":1.085,"tcls":0.780,"tdfl":1.551,"prec":0.828,"rec":0.701,"vbox":1.177,"vcls":0.851,"vdfl":1.650,"map50":0.746,"map95":0.501},
    {"epoch":177,"tbox":1.083,"tcls":0.775,"tdfl":1.549,"prec":0.829,"rec":0.700,"vbox":1.177,"vcls":0.851,"vdfl":1.649,"map50":0.746,"map95":0.501},
    {"epoch":178,"tbox":1.080,"tcls":0.773,"tdfl":1.547,"prec":0.830,"rec":0.699,"vbox":1.177,"vcls":0.851,"vdfl":1.649,"map50":0.745,"map95":0.501},
    {"epoch":179,"tbox":1.073,"tcls":0.772,"tdfl":1.545,"prec":0.828,"rec":0.698,"vbox":1.177,"vcls":0.851,"vdfl":1.649,"map50":0.746,"map95":0.501},
    {"epoch":180,"tbox":1.076,"tcls":0.770,"tdfl":1.543,"prec":0.831,"rec":0.699,"vbox":1.177,"vcls":0.851,"vdfl":1.650,"map50":0.746,"map95":0.501},
    {"epoch":181,"tbox":1.074,"tcls":0.769,"tdfl":1.537,"prec":0.830,"rec":0.700,"vbox":1.177,"vcls":0.851,"vdfl":1.650,"map50":0.746,"map95":0.501},
    {"epoch":182,"tbox":1.072,"tcls":0.764,"tdfl":1.539,"prec":0.832,"rec":0.698,"vbox":1.177,"vcls":0.851,"vdfl":1.650,"map50":0.747,"map95":0.501},
    {"epoch":183,"tbox":1.070,"tcls":0.767,"tdfl":1.537,"prec":0.833,"rec":0.699,"vbox":1.177,"vcls":0.851,"vdfl":1.650,"map50":0.748,"map95":0.500},
    {"epoch":184,"tbox":1.068,"tcls":0.766,"tdfl":1.535,"prec":0.831,"rec":0.701,"vbox":1.177,"vcls":0.850,"vdfl":1.650,"map50":0.749,"map95":0.500},
    {"epoch":185,"tbox":1.071,"tcls":0.765,"tdfl":1.533,"prec":0.832,"rec":0.703,"vbox":1.177,"vcls":0.850,"vdfl":1.650,"map50":0.749,"map95":0.501},
    {"epoch":186,"tbox":1.064,"tcls":0.764,"tdfl":1.531,"prec":0.834,"rec":0.704,"vbox":1.177,"vcls":0.850,"vdfl":1.650,"map50":0.749,"map95":0.501},
    {"epoch":187,"tbox":1.062,"tcls":0.763,"tdfl":1.529,"prec":0.833,"rec":0.705,"vbox":1.178,"vcls":0.850,"vdfl":1.650,"map50":0.748,"map95":0.501},
    {"epoch":188,"tbox":1.060,"tcls":0.762,"tdfl":1.520,"prec":0.829,"rec":0.705,"vbox":1.178,"vcls":0.850,"vdfl":1.650,"map50":0.749,"map95":0.501},
    {"epoch":189,"tbox":1.058,"tcls":0.761,"tdfl":1.527,"prec":0.831,"rec":0.704,"vbox":1.177,"vcls":0.850,"vdfl":1.650,"map50":0.748,"map95":0.501},
    {"epoch":190,"tbox":1.062,"tcls":0.755,"tdfl":1.526,"prec":0.833,"rec":0.705,"vbox":1.177,"vcls":0.850,"vdfl":1.650,"map50":0.748,"map95":0.500},
    {"epoch":191,"tbox":0.995,"tcls":0.665,"tdfl":1.468,"prec":0.834,"rec":0.706,"vbox":1.177,"vcls":0.850,"vdfl":1.650,"map50":0.747,"map95":0.500},
    {"epoch":192,"tbox":0.985,"tcls":0.650,"tdfl":1.463,"prec":0.832,"rec":0.705,"vbox":1.177,"vcls":0.850,"vdfl":1.650,"map50":0.747,"map95":0.500},
    {"epoch":193,"tbox":0.982,"tcls":0.643,"tdfl":1.460,"prec":0.830,"rec":0.704,"vbox":1.177,"vcls":0.850,"vdfl":1.650,"map50":0.746,"map95":0.500},
    {"epoch":194,"tbox":0.978,"tcls":0.638,"tdfl":1.457,"prec":0.831,"rec":0.701,"vbox":1.177,"vcls":0.850,"vdfl":1.650,"map50":0.746,"map95":0.501},
    {"epoch":195,"tbox":0.975,"tcls":0.634,"tdfl":1.454,"prec":0.832,"rec":0.698,"vbox":1.177,"vcls":0.850,"vdfl":1.650,"map50":0.745,"map95":0.501},
    {"epoch":196,"tbox":0.972,"tcls":0.631,"tdfl":1.452,"prec":0.833,"rec":0.700,"vbox":1.177,"vcls":0.850,"vdfl":1.650,"map50":0.746,"map95":0.501},
    {"epoch":197,"tbox":0.970,"tcls":0.628,"tdfl":1.450,"prec":0.832,"rec":0.702,"vbox":1.177,"vcls":0.849,"vdfl":1.650,"map50":0.747,"map95":0.501},
    {"epoch":198,"tbox":0.968,"tcls":0.626,"tdfl":1.448,"prec":0.831,"rec":0.703,"vbox":1.177,"vcls":0.849,"vdfl":1.650,"map50":0.748,"map95":0.501},
    {"epoch":199,"tbox":0.966,"tcls":0.624,"tdfl":1.446,"prec":0.832,"rec":0.702,"vbox":1.176,"vcls":0.849,"vdfl":1.650,"map50":0.750,"map95":0.502},
    {"epoch":200,"tbox":0.963,"tcls":0.622,"tdfl":1.443,"prec":0.833,"rec":0.703,"vbox":1.176,"vcls":0.849,"vdfl":1.650,"map50":0.752,"map95":0.502}
  ]},
  "transform": [
    {"fold": ["tbox", "tcls", "tdfl", "prec", "rec", "vbox", "vcls", "vdfl", "map50", "map95"], "as": ["k", "results"]},
    {"window": [{"op": "mean", "field": "results", "as": "smooth"}], "frame": [-5, 5], "groupby": ["k"], "sort": [{"field": "epoch"}]},
    {"fold": ["results", "smooth"], "as": ["series", "v"]}
  ],
  "columns": 5,
  "spacing": {"row": 126, "column": 135},
  "bounds": "flush",
  "resolve": {
    "scale": {"color": "independent", "shape": "independent"},
    "legend": {"color": "independent", "shape": "independent"}
  },
  "concat": [
    {
      "title": "train/box_loss", "width": 343, "height": 458,
      "transform": [{"filter": "datum.k === 'tbox'"}],
      "encoding": {
        "x": {"field": "epoch", "type": "quantitative", "title": null, "scale": {"domain": [-8.95, 209.95], "nice": false}, "axis": {"values": [0, 100, 200]}},
        "y": {"field": "v", "type": "quantitative", "title": null, "scale": {"zero": false, "nice": false, "padding": 20.8}, "axis": {"values": [1.0, 1.2, 1.4, 1.6], "format": ".1f"}}
      },
      "layer": [
        {"transform": [{"filter": "datum.series === 'results'"}], "mark": {"type": "line", "color": "#1f77b4", "strokeJoin": "round", "strokeCap": "square"}},
        {"transform": [{"filter": "datum.series === 'results'"}], "mark": {"type": "point", "color": "#1f77b4"}},
        {"transform": [{"filter": "datum.series === 'smooth'"}], "mark": {"type": "line", "color": "#ff7f0e", "strokeDash": [5.6, 9.2]}}
      ]
    },
    {
      "title": "train/cls_loss", "width": 343, "height": 458,
      "transform": [{"filter": "datum.k === 'tcls'"}],
      "encoding": {
        "x": {"field": "epoch", "type": "quantitative", "title": null, "scale": {"domain": [-8.95, 209.95], "nice": false}, "axis": {"values": [0, 100, 200]}},
        "y": {"field": "v", "type": "quantitative", "title": null, "scale": {"zero": false, "nice": false, "padding": 20.8}, "axis": {"values": [1.0, 1.5, 2.0], "format": ".1f"}}
      },
      "layer": [
        {"transform": [{"filter": "datum.series === 'results'"}], "mark": {"type": "line", "color": "#1f77b4", "strokeJoin": "round", "strokeCap": "square"}},
        {"transform": [{"filter": "datum.series === 'results'"}], "mark": {"type": "point", "color": "#1f77b4"}},
        {"transform": [{"filter": "datum.series === 'smooth'"}], "mark": {"type": "line", "color": "#ff7f0e", "strokeDash": [5.6, 9.2]}},
        {"transform": [{"filter": "datum.epoch < 0"}], "mark": {"type": "point"},
         "encoding": {
           "color": {"field": "series", "type": "nominal", "title": null, "scale": {"domain": ["results", "smooth"], "range": ["#1f77b4", "#ff7f0e"]}, "legend": {"labelExpr": "datum.label + ' '"}},
           "shape": {"field": "series", "type": "nominal", "title": null, "scale": {"domain": ["results", "smooth"], "range": [
             "M-5.2,-0.49H5.2V0.49H-5.2Z M1.13,0A1.13,1.13,0,1,1,-1.13,0A1.13,1.13,0,1,1,1.13,0Z",
             "M-5.2,-0.49h0.97v0.98h-0.97Z M-2.64,-0.49h0.97v0.98h-0.97Z M-0.08,-0.49h0.97v0.98h-0.97Z M2.48,-0.49h0.97v0.98h-0.97Z M5.04,-0.49h0.16v0.98h-0.16Z"
           ]}, "legend": {"labelExpr": "datum.label + ' '"}}
         }}
      ]
    },
    {
      "title": "train/dfl_loss", "width": 343, "height": 458,
      "transform": [{"filter": "datum.k === 'tdfl'"}],
      "encoding": {
        "x": {"field": "epoch", "type": "quantitative", "title": null, "scale": {"domain": [-8.95, 209.95], "nice": false}, "axis": {"values": [0, 100, 200]}},
        "y": {"field": "v", "type": "quantitative", "title": null, "scale": {"zero": false, "nice": false, "padding": 20.8}, "axis": {"values": [1.5, 1.6, 1.7, 1.8, 1.9, 2.0], "format": ".1f"}}
      },
      "layer": [
        {"transform": [{"filter": "datum.series === 'results'"}], "mark": {"type": "line", "color": "#1f77b4", "strokeJoin": "round", "strokeCap": "square"}},
        {"transform": [{"filter": "datum.series === 'results'"}], "mark": {"type": "point", "color": "#1f77b4"}},
        {"transform": [{"filter": "datum.series === 'smooth'"}], "mark": {"type": "line", "color": "#ff7f0e", "strokeDash": [5.6, 9.2]}}
      ]
    },
    {
      "title": "metrics/precision(B)", "width": 343, "height": 458,
      "transform": [{"filter": "datum.k === 'prec'"}],
      "encoding": {
        "x": {"field": "epoch", "type": "quantitative", "title": null, "scale": {"domain": [-8.95, 209.95], "nice": false}, "axis": {"values": [0, 100, 200]}},
        "y": {"field": "v", "type": "quantitative", "title": null, "scale": {"zero": false, "nice": false, "padding": 20.8}, "axis": {"values": [0.5, 0.6, 0.7, 0.8], "format": ".1f"}}
      },
      "layer": [
        {"transform": [{"filter": "datum.series === 'results'"}], "mark": {"type": "line", "color": "#1f77b4", "strokeJoin": "round", "strokeCap": "square"}},
        {"transform": [{"filter": "datum.series === 'results'"}], "mark": {"type": "point", "color": "#1f77b4"}},
        {"transform": [{"filter": "datum.series === 'smooth'"}], "mark": {"type": "line", "color": "#ff7f0e", "strokeDash": [5.6, 9.2]}}
      ]
    },
    {
      "title": "metrics/recall(B)", "width": 343, "height": 458,
      "transform": [{"filter": "datum.k === 'rec'"}],
      "encoding": {
        "x": {"field": "epoch", "type": "quantitative", "title": null, "scale": {"domain": [-8.95, 209.95], "nice": false}, "axis": {"values": [0, 100, 200]}},
        "y": {"field": "v", "type": "quantitative", "title": null, "scale": {"zero": false, "nice": false, "padding": 20.8}, "axis": {"values": [0.4, 0.5, 0.6, 0.7], "format": ".1f"}}
      },
      "layer": [
        {"transform": [{"filter": "datum.series === 'results'"}], "mark": {"type": "line", "color": "#1f77b4", "strokeJoin": "round", "strokeCap": "square"}},
        {"transform": [{"filter": "datum.series === 'results'"}], "mark": {"type": "point", "color": "#1f77b4"}},
        {"transform": [{"filter": "datum.series === 'smooth'"}], "mark": {"type": "line", "color": "#ff7f0e", "strokeDash": [5.6, 9.2]}}
      ]
    },
    {
      "title": "val/box_loss", "width": 343, "height": 458,
      "transform": [{"filter": "datum.k === 'vbox'"}],
      "encoding": {
        "x": {"field": "epoch", "type": "quantitative", "title": null, "scale": {"domain": [-8.95, 209.95], "nice": false}, "axis": {"values": [0, 100, 200]}},
        "y": {"field": "v", "type": "quantitative", "title": null, "scale": {"zero": false, "nice": false, "padding": 20.8}, "axis": {"values": [1.2, 1.3, 1.4, 1.5], "format": ".1f"}}
      },
      "layer": [
        {"transform": [{"filter": "datum.series === 'results'"}], "mark": {"type": "line", "color": "#1f77b4", "strokeJoin": "round", "strokeCap": "square"}},
        {"transform": [{"filter": "datum.series === 'results'"}], "mark": {"type": "point", "color": "#1f77b4"}},
        {"transform": [{"filter": "datum.series === 'smooth'"}], "mark": {"type": "line", "color": "#ff7f0e", "strokeDash": [5.6, 9.2]}}
      ]
    },
    {
      "title": "val/cls_loss", "width": 343, "height": 458,
      "transform": [{"filter": "datum.k === 'vcls'"}],
      "encoding": {
        "x": {"field": "epoch", "type": "quantitative", "title": null, "scale": {"domain": [-8.95, 209.95], "nice": false}, "axis": {"values": [0, 100, 200]}},
        "y": {"field": "v", "type": "quantitative", "title": null, "scale": {"zero": false, "nice": false, "padding": 20.8}, "axis": {"values": [1.0, 1.2, 1.4, 1.6], "format": ".1f"}}
      },
      "layer": [
        {"transform": [{"filter": "datum.series === 'results'"}], "mark": {"type": "line", "color": "#1f77b4", "strokeJoin": "round", "strokeCap": "square"}},
        {"transform": [{"filter": "datum.series === 'results'"}], "mark": {"type": "point", "color": "#1f77b4"}},
        {"transform": [{"filter": "datum.series === 'smooth'"}], "mark": {"type": "line", "color": "#ff7f0e", "strokeDash": [5.6, 9.2]}}
      ]
    },
    {
      "title": "val/dfl_loss", "width": 343, "height": 458,
      "transform": [{"filter": "datum.k === 'vdfl'"}],
      "encoding": {
        "x": {"field": "epoch", "type": "quantitative", "title": null, "scale": {"domain": [-8.95, 209.95], "nice": false}, "axis": {"values": [0, 100, 200]}},
        "y": {"field": "v", "type": "quantitative", "title": null, "scale": {"zero": false, "nice": false, "padding": 20.8}, "axis": {"values": [1.65, 1.7, 1.75, 1.8, 1.85, 1.9, 1.95], "format": ".2f"}}
      },
      "layer": [
        {"transform": [{"filter": "datum.series === 'results'"}], "mark": {"type": "line", "color": "#1f77b4", "strokeJoin": "round", "strokeCap": "square"}},
        {"transform": [{"filter": "datum.series === 'results'"}], "mark": {"type": "point", "color": "#1f77b4"}},
        {"transform": [{"filter": "datum.series === 'smooth'"}], "mark": {"type": "line", "color": "#ff7f0e", "strokeDash": [5.6, 9.2]}}
      ]
    },
    {
      "title": "metrics/mAP50(B)", "width": 343, "height": 458,
      "transform": [{"filter": "datum.k === 'map50'"}],
      "encoding": {
        "x": {"field": "epoch", "type": "quantitative", "title": null, "scale": {"domain": [-8.95, 209.95], "nice": false}, "axis": {"values": [0, 100, 200]}},
        "y": {"field": "v", "type": "quantitative", "title": null, "scale": {"zero": false, "nice": false, "padding": 20.8}, "axis": {"values": [0.4, 0.5, 0.6, 0.7], "format": ".1f"}}
      },
      "layer": [
        {"transform": [{"filter": "datum.series === 'results'"}], "mark": {"type": "line", "color": "#1f77b4", "strokeJoin": "round", "strokeCap": "square"}},
        {"transform": [{"filter": "datum.series === 'results'"}], "mark": {"type": "point", "color": "#1f77b4"}},
        {"transform": [{"filter": "datum.series === 'smooth'"}], "mark": {"type": "line", "color": "#ff7f0e", "strokeDash": [5.6, 9.2]}}
      ]
    },
    {
      "title": "metrics/mAP50-95(B)", "width": 343, "height": 458,
      "transform": [{"filter": "datum.k === 'map95'"}],
      "encoding": {
        "x": {"field": "epoch", "type": "quantitative", "title": null, "scale": {"domain": [-8.95, 209.95], "nice": false}, "axis": {"values": [0, 100, 200]}},
        "y": {"field": "v", "type": "quantitative", "title": null, "scale": {"zero": false, "nice": false, "padding": 20.8}, "axis": {"values": [0.25, 0.3, 0.35, 0.4, 0.45, 0.5], "format": ".2f"}}
      },
      "layer": [
        {"transform": [{"filter": "datum.series === 'results'"}], "mark": {"type": "line", "color": "#1f77b4", "strokeJoin": "round", "strokeCap": "square"}},
        {"transform": [{"filter": "datum.series === 'results'"}], "mark": {"type": "point", "color": "#1f77b4"}},
        {"transform": [{"filter": "datum.series === 'smooth'"}], "mark": {"type": "line", "color": "#ff7f0e", "strokeDash": [5.6, 9.2]}}
      ]
    }
  ],
  "config": {
    "font": "DejaVu Sans",
    "view": {"stroke": "#000000", "strokeWidth": 2.2},
    "axis": {"domain": false, "grid": false, "ticks": true, "tickColor": "#000000", "tickSize": 9.7, "tickWidth": 2.2, "labelFont": "DejaVu Sans", "labelFontSize": 27.8, "labelColor": "#000000", "labelPadding": 9.7, "labelFlush": false, "labelOverlap": false, "labelBound": false},
    "title": {"font": "DejaVu Sans", "fontSize": 33.3, "fontWeight": "normal", "color": "#000000", "offset": 16.7, "baseline": "alphabetic", "anchor": "middle"},
    "line": {"strokeWidth": 5.6},
    "point": {"filled": true, "size": 133, "opacity": 1, "shape": "circle"},
    "legend": {"orient": "top-right", "offset": 14, "symbolSize": 133, "symbolStrokeWidth": 0, "symbolOffset": 25, "symbolOpacity": 1, "labelFont": "DejaVu Sans", "labelFontSize": 27.8, "labelColor": "#000000", "padding": 10, "rowPadding": 9, "labelOffset": 40.5, "strokeColor": "#cccccc", "strokeWidth": 2, "fillColor": "rgba(255,255,255,0.8)", "cornerRadius": 6}
  }
}
